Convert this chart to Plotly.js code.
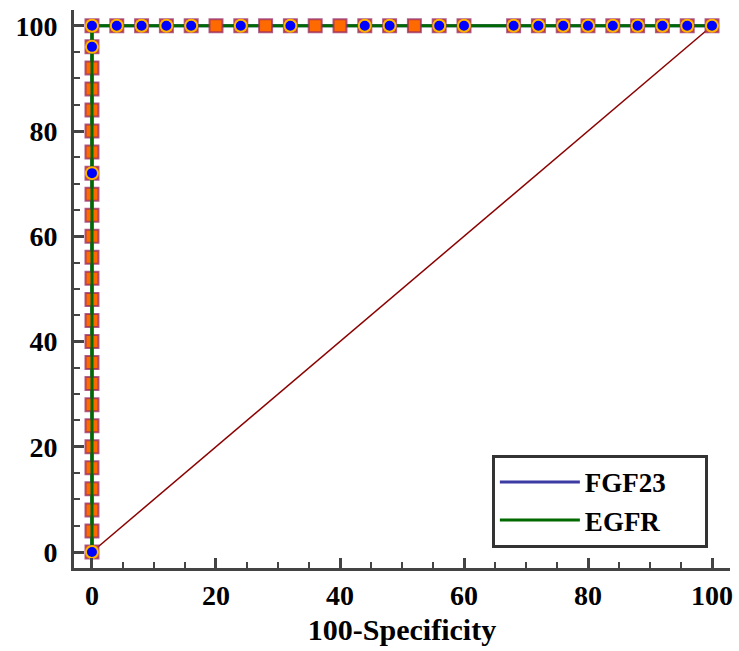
<!DOCTYPE html>
<html>
<head>
<meta charset="utf-8">
<script src="https://cdn.plot.ly/plotly-3.0.1.min.js"></script>
<style>html,body{margin:0;padding:0;background:#fff;}#chart{width:739px;height:651px;}</style>
</head>
<body>
<div id="chart"></div>
<script>
// ROC points (100-Specificity, Sensitivity)
const egfrX = [0,0,0,0,0,0,0,0,0,0,0,0,0,0,0,0,0,0,0,0,0,0,0,0,0,0,
               4,8,12,16,20,24,28,32,36,40,44,48,52,56,60,68,72,76,80,84,88,92,96,100];
const egfrY = [0,4,8,12,16,20,24,28,32,36,40,44,48,52,56,60,64,68,72,76,80,84,88,92,96,100,
               100,100,100,100,100,100,100,100,100,100,100,100,100,100,100,100,100,100,100,100,100,100,100,100];
const fgfX = [0,0,0,0,4,8,12,16,24,32,44,48,56,60,68,72,76,80,84,88,92,96,100];
const fgfY = [0,72,96,100,100,100,100,100,100,100,100,100,100,100,100,100,100,100,100,100,100,100,100];
const refX = [0,100];
const refY = [0,100];
const seriesNames = ['FGF23','EGFR'];
const tickVals = [0,20,40,60,80,100];
const xTitle = '100-Specificity';

const font = {family:'Liberation Serif, Times New Roman, serif', color:'#000', weight:700};
const pad = '\u00a0\u00a0\u00a0\u00a0\u00a0';
// vertical part of EGFR curve (drawn over its square markers)
const egfrVX = egfrX.filter((v)=>v===0);
const egfrVY = egfrY.filter((v,i)=>egfrX[i]===0);

const traces = [
  {x:refX, y:refY, mode:'lines', line:{color:'#8b0000', width:1.5}, showlegend:false, hoverinfo:'skip'},
  {x:fgfX, y:fgfY, mode:'lines', name:seriesNames[0] + pad, line:{color:'#3b3ba3', width:3}},
  {x:egfrX, y:egfrY, mode:'lines', name:seriesNames[1] + pad, line:{color:'#006a00', width:3}},
  {x:egfrX, y:egfrY, mode:'markers', showlegend:false, cliponaxis:false,
   marker:{symbol:'square', size:13, color:'#ff6a00', line:{color:'rgba(150,40,100,0.75)', width:2}}},
  {x:egfrVX, y:egfrVY, mode:'lines', showlegend:false, line:{color:'#006a00', width:3}},
  {x:fgfX, y:fgfY, mode:'markers', showlegend:false, cliponaxis:false,
   marker:{symbol:'circle', size:12, color:'#0000ff', line:{color:'#ffb400', width:2}}}
];

const axisCommon = {
  showgrid:false, zeroline:false, showline:true, linecolor:'#444', linewidth:3,
  ticks:'inside', ticklen:10, tickwidth:3, tickcolor:'#444',
  tickvals:tickVals, ticktext:tickVals.map(String),
  minor:{dtick:5, ticks:'inside', ticklen:6, tickwidth:2, tickcolor:'#444'},
  tickfont:Object.assign({size:28}, font), mirror:false
};

const layout = {
  width:739, height:651,
  margin:{l:74, r:9, t:10, b:83},
  paper_bgcolor:'#fff', plot_bgcolor:'#fff',
  xaxis:Object.assign({}, axisCommon, {range:[-2.9,102.9],
        title:{text:xTitle, font:Object.assign({size:30}, font), standoff:10}}),
  yaxis:Object.assign({}, axisCommon, {range:[-3.04,103], ticklabelstandoff:8}),
  showlegend:true,
  legend:{x:0.637, y:0.036, xanchor:'left', yanchor:'bottom',
          bordercolor:'#333', borderwidth:3, bgcolor:'#fff',
          font:Object.assign({size:27}, font), itemwidth:80, tracegroupgap:0}
};

Plotly.newPlot('chart', traces, layout, {displayModeBar:false, staticPlot:true});
</script>
</body>
</html>
